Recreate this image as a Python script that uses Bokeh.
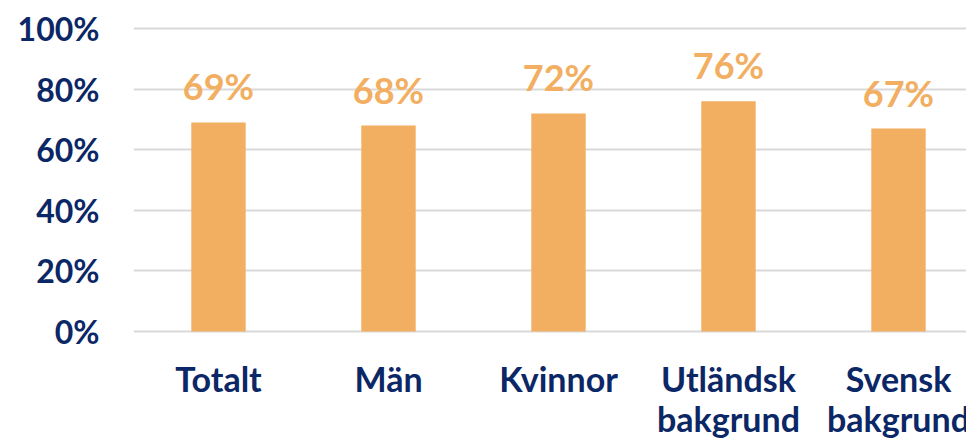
from bokeh.plotting import figure
from bokeh.models import ColumnDataSource, Range1d, FixedTicker, LabelSet
from bokeh.core.properties import value
from bokeh.embed import file_html
from bokeh.resources import INLINE

categories = ["Totalt", "Män", "Kvinnor", "Utländsk\nbakgrund", "Svensk\nbakgrund"]
values = [69, 68, 72, 76, 67]
y_ticks = [0, 20, 40, 60, 80, 100]

NAVY = "#0B2766"
ORANGE = "#F2AE61"
FONT = "Lato"

xs = [i + 0.5 for i in range(len(categories))]
src = ColumnDataSource(dict(x=xs, top=values, label=[f"{v}%" for v in values]))

line1 = [c.split("\n")[0] for c in categories]
line2 = [c.split("\n")[1] if "\n" in c else "" for c in categories]
cat_src = ColumnDataSource(dict(x=xs, l1=line1, l2=line2,
                                y1=[-20.1] * len(xs), y2=[-33.3] * len(xs)))

p = figure(width=966, height=442, output_backend="svg", toolbar_location=None,
           x_range=Range1d(0, 833 / 170), y_range=Range1d(-111 / 3.03, 102),
           min_border_left=133, min_border_right=0, min_border_top=22, min_border_bottom=0)
p.outline_line_color = None
p.background_fill_color = "white"
p.border_fill_color = "white"

p.vbar(x="x", top="top", width=0.32, bottom=0, source=src, fill_color=ORANGE, line_color=None)

labels = LabelSet(x="x", y="top", text="label", source=src, y_offset=22,
                  text_align="center", text_baseline="alphabetic",
                  text_color=ORANGE, text_font=value(FONT), text_font_style="bold",
                  text_font_size="36px")
p.add_layout(labels)

for col_y, col_t in (("y1", "l1"), ("y2", "l2")):
    p.add_layout(LabelSet(x="x", y=col_y, text=col_t, source=cat_src,
                          text_align="center", text_baseline="alphabetic",
                          text_color=NAVY, text_font=value(FONT), text_font_style="bold",
                          text_font_size="34px"))

p.xaxis.visible = False
p.xgrid.grid_line_color = None

# y axis
p.yaxis.ticker = FixedTicker(ticks=y_ticks)
p.yaxis.major_label_overrides = {t: f"{t}%" for t in y_ticks}
p.yaxis.axis_line_color = None
p.yaxis.major_tick_line_color = None
p.yaxis.minor_tick_line_color = None
p.yaxis.major_label_text_font = FONT
p.yaxis.major_label_text_font_style = "bold"
p.yaxis.major_label_text_font_size = "32px"
p.yaxis.major_label_text_color = NAVY
p.yaxis.major_label_standoff = 28
p.ygrid.grid_line_color = "#D9D9D9"
p.ygrid.grid_line_width = 2

open("out.html", "w").write(file_html(p, INLINE))
